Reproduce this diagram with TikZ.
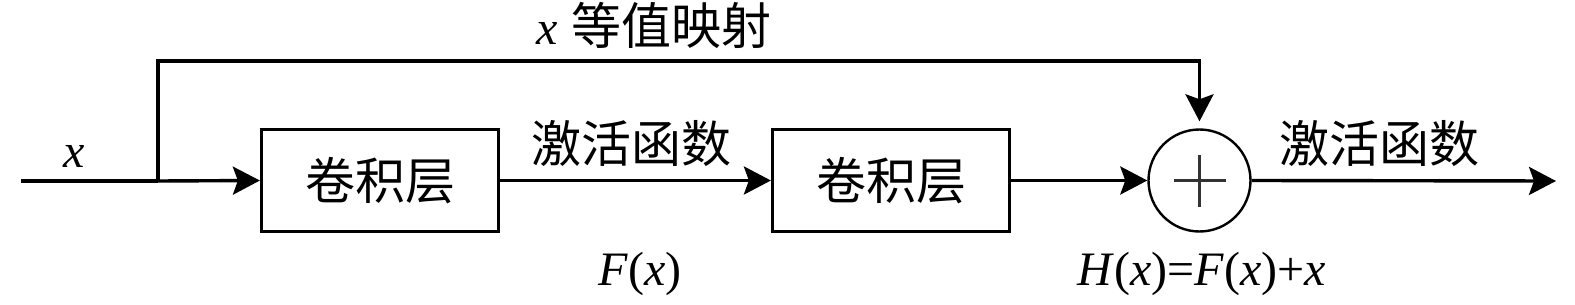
\documentclass[tikz,border=0pt]{standalone}
\usepackage{fontspec}
\setmainfont{Liberation Serif}
\newfontfamily\cjk{Noto Sans CJK SC}
\usetikzlibrary{arrows.meta}
\tikzset{
  flow/.style={line width=3.4pt, -{Stealth[length=27pt,width=28pt,inset=5pt]}},
  wire/.style={line width=3.4pt},
  layerbox/.style={draw, line width=3.2pt, minimum width=237pt, minimum height=102pt, inner sep=0pt, font=\cjk\fontsize{50}{52}\selectfont},
  sumnode/.style={draw, circle, line width=2.4pt, minimum size=102pt, inner sep=0pt},
  cjklabel/.style={font=\cjk\fontsize{50}{52}\selectfont, inner sep=0pt, anchor=base},
  mathlabel/.style={font=\fontsize{48}{50}\selectfont, inner sep=0pt, anchor=base},
}
\begin{document}
\begin{tikzpicture}[x=1pt,y=-1pt]
\useasboundingbox (0,0) rectangle (1575,305);
\node[layerbox] (c1) at (380,180.5) {卷积层};
\node[layerbox] (c2) at (891,180.5) {卷积层};
\node[sumnode] (sum) at (1199.5,180.5) {};
\draw[gray!40!black, line width=2.4pt] ([xshift=-26pt]sum.center) -- ([xshift=26pt]sum.center);
\draw[gray!40!black, line width=2.4pt] ([yshift=-26pt]sum.center) -- ([yshift=26pt]sum.center);
\coordinate (in) at (21,181);
\coordinate (br) at (158,181);
\coordinate (tl) at (158,61);
\coordinate (tr) at (1199.5,61);
\coordinate (out) at (1556,181);
\draw[wire] (in) -- (br);
\draw[flow] (br) -- (c1.west);
\draw[flow] (c1.east) -- (c2.west);
\draw[flow] (c2.east) -- (sum.west);
\draw[flow] (sum.east) -- (out);
\draw[flow, shorten >=7pt] (br) -- (tl) -- (tr) -- (sum.north);
\node[mathlabel] (xin) at (74,167) {\textit{x}};
\node[cjklabel, anchor=base west] (top) at (536,45) {{\rmfamily\fontsize{48}{50}\selectfont\textit{x}}\hspace{14pt}等值映射};
\node[cjklabel] (a1) at (631.5,162) {激活函数};
\node[cjklabel] (a2) at (1379.5,162) {激活函数};
\node[mathlabel] (fx) at (640,285) {\textit{F}(\textit{x})};
\node[mathlabel] (hx) at (1202,285) {\textit{H}(\textit{x})=\textit{F}(\textit{x})+\textit{x}};
\end{tikzpicture}
\end{document}
